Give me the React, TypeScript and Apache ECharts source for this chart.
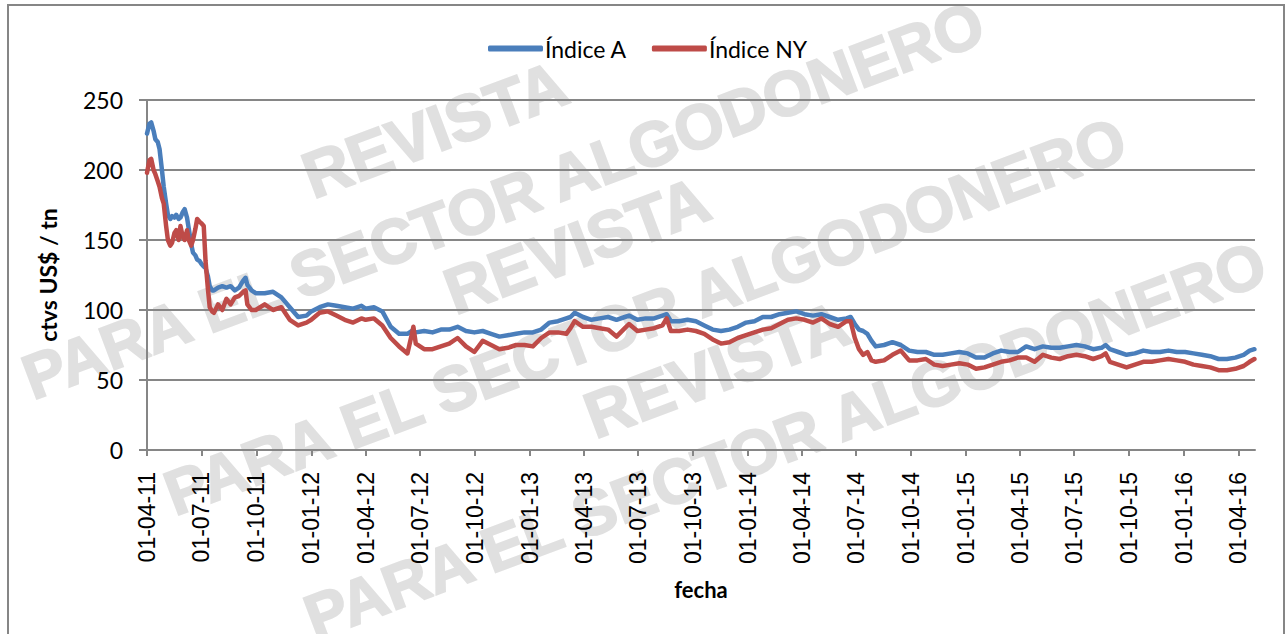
import React, { useEffect, useRef } from "react";
import * as echarts from "echarts";

const dates: string[] = [
  "2011-04-01","2011-04-05","2011-04-08","2011-04-12","2011-04-15","2011-04-19","2011-04-22","2011-04-26","2011-04-29",
  "2011-05-03","2011-05-06","2011-05-10","2011-05-13","2011-05-17","2011-05-20","2011-05-24","2011-05-27","2011-05-31",
  "2011-06-03","2011-06-07","2011-06-10","2011-06-14","2011-06-17","2011-06-21","2011-06-24","2011-06-28",
  "2011-07-01","2011-07-05","2011-07-08","2011-07-12","2011-07-15","2011-07-19","2011-07-22","2011-07-29",
  "2011-08-05","2011-08-12","2011-08-19","2011-08-26","2011-09-02","2011-09-09","2011-09-13","2011-09-16","2011-09-23","2011-09-30",
  "2011-10-15","2011-10-29","2011-11-12","2011-11-26","2011-12-10","2011-12-24",
  "2012-01-01","2012-01-15","2012-01-29","2012-02-12","2012-02-26","2012-03-11","2012-03-25",
  "2012-04-01","2012-04-15","2012-04-29","2012-05-13","2012-05-27","2012-06-10","2012-06-17","2012-06-20","2012-06-24",
  "2012-07-08","2012-07-22","2012-08-05","2012-08-19","2012-09-02","2012-09-16","2012-09-30",
  "2012-10-14","2012-10-28","2012-11-11","2012-11-25","2012-12-09","2012-12-23",
  "2013-01-06","2013-01-20","2013-02-03","2013-02-17","2013-03-03","2013-03-10","2013-03-17","2013-03-31",
  "2013-04-14","2013-04-28","2013-05-12","2013-05-26","2013-06-09","2013-06-16","2013-06-30",
  "2013-07-14","2013-07-28","2013-08-11","2013-08-18","2013-08-25","2013-09-08","2013-09-22",
  "2013-10-06","2013-10-20","2013-11-03","2013-11-17","2013-12-01","2013-12-15","2013-12-29",
  "2014-01-12","2014-01-26","2014-02-09","2014-02-23","2014-03-09","2014-03-23",
  "2014-04-06","2014-04-20","2014-05-04","2014-05-18","2014-06-01","2014-06-15","2014-06-22","2014-06-29",
  "2014-07-06","2014-07-13","2014-07-20","2014-07-27","2014-08-03","2014-08-17","2014-08-31","2014-09-14","2014-09-28",
  "2014-10-12","2014-10-26","2014-11-09","2014-11-23","2014-12-07","2014-12-21",
  "2015-01-04","2015-01-18","2015-02-01","2015-02-15","2015-03-01","2015-03-15","2015-03-29",
  "2015-04-12","2015-04-26","2015-05-10","2015-05-24","2015-06-07","2015-06-21","2015-07-05",
  "2015-07-19","2015-08-02","2015-08-16","2015-08-23","2015-08-30","2015-09-13","2015-09-27",
  "2015-10-11","2015-10-25","2015-11-08","2015-11-22","2015-12-06","2015-12-20",
  "2016-01-03","2016-01-17","2016-01-31","2016-02-14","2016-02-28","2016-03-13","2016-03-27",
  "2016-04-10","2016-04-20","2016-04-28",
];

const indiceA: number[] = [
  226,233,234,228,222,220,215,200,188,
  176,168,165,167,166,168,165,166,170,
  172,166,158,147,141,139,136,135,
  133,131,130,124,117,114,114,116,
  117,116,117,114,116,121,123,118,114,112,
  112,113,109,102,95,96,
  99,102,104,103,102,101,103,
  101,102,99,88,83,83,85,84,84,
  85,84,86,86,88,85,84,
  85,83,81,82,83,84,
  84,86,91,92,94,95,98,95,
  93,94,95,93,95,96,93,
  94,94,96,97,92,92,93,
  92,89,86,85,86,88,91,
  92,95,95,97,98,99,
  97,96,97,95,93,94,95,90,
  86,85,83,78,74,75,77,75,71,
  70,70,68,68,69,70,
  69,66,66,69,71,70,70,
  74,72,74,73,73,74,75,
  74,72,73,75,72,70,68,
  69,71,70,70,71,70,
  70,69,68,67,65,65,66,
  68,71,72,
];

const indiceNY: number[] = [
  198,207,208,200,197,192,188,180,176,
  160,150,146,148,155,157,150,160,152,
  150,157,150,146,150,158,165,163,
  162,160,135,115,102,99,98,104,
  100,108,104,109,110,113,114,104,100,100,
  104,100,102,93,89,91,
  93,98,99,96,93,91,94,
  93,94,89,80,74,69,82,88,76,
  72,72,74,76,80,74,70,
  78,75,72,73,75,75,
  74,80,84,84,83,87,92,88,
  88,87,86,81,87,90,85,
  86,87,89,94,85,85,86,
  85,83,79,76,77,80,82,
  84,86,87,90,93,94,
  93,91,94,90,88,92,92,80,
  72,68,70,64,63,64,68,71,64,
  64,65,61,60,61,62,
  61,58,59,61,63,64,66,
  66,63,68,66,65,67,68,
  67,65,67,69,63,61,59,
  61,63,63,64,65,64,
  63,61,60,59,57,57,58,
  60,63,65,
];

const tickDates: string[] = [
  "2011-04-01","2011-07-01","2011-10-01","2012-01-01","2012-04-01","2012-07-01","2012-10-01",
  "2013-01-01","2013-04-01","2013-07-01","2013-10-01","2014-01-01","2014-04-01","2014-07-01",
  "2014-10-01","2015-01-01","2015-04-01","2015-07-01","2015-10-01","2016-01-01","2016-04-01",
];

const seriesNames: string[] = ["Índice A", "Índice NY"];
const yTicks: number[] = [0, 50, 100, 150, 200, 250];
const axisStart = "2011-04-01";
const axisEnd = "2016-04-29";

const toMs = (s: string) => {
  const [y, m, d] = s.split("-").map(Number);
  return Date.UTC(y, m - 1, d);
};
const pad = (n: number) => (n < 10 ? "0" + n : "" + n);
const fmt = (v: number) => {
  const d = new Date(v);
  return `${pad(d.getUTCDate())}-${pad(d.getUTCMonth() + 1)}-${pad(d.getUTCFullYear() % 100)}`;
};

const FONT = "Lato, 'Liberation Sans', Arial, sans-serif";
const GRAY = "#868686";
const WM = "#e0e0e0";

function watermark(cx: number, cy: number) {
  const font = "bold 63px 'Liberation Sans', Arial, sans-serif";
  const fontR = "bold 65px 'Liberation Sans', Arial, sans-serif";
  return {
    type: "group",
    x: cx,
    y: cy,
    rotation: 0.36,
    silent: true,
    z: -10,
    children: [
      {
        type: "text",
        x: 0,
        y: 0,
        z: -10,
        style: {
          text: "PARA EL SECTOR ALGODONERO",
          fill: WM,
          stroke: WM,
          lineWidth: 2,
          font,
          textAlign: "center",
          verticalAlign: "middle",
        },
      },
      {
        type: "text",
        x: -39,
        y: -90,
        z: -10,
        style: {
          text: "REVISTA",
          fill: WM,
          stroke: WM,
          lineWidth: 2,
          font: fontR,
          textAlign: "center",
          verticalAlign: "middle",
        },
      },
    ],
  };
}

export default function App() {
  const ref = useRef<HTMLDivElement>(null);
  useEffect(() => {
    if (!ref.current) return;
    const chart = echarts.init(ref.current, null, { renderer: "svg" });
    const ticks = tickDates.map(toMs);
    const dataA = dates.map((d, i) => [toMs(d), indiceA[i]]);
    const dataNY = dates.map((d, i) => [toMs(d), indiceNY[i]]);
    chart.setOption({
      animation: false,
      backgroundColor: "#fff",
      graphic: {
        elements: [
          watermark(503, 200),
          watermark(645, 316),
          watermark(785, 440),
          {
            type: "rect",
            z: 100,
            silent: true,
            shape: { x: 8, y: 5, width: 1276, height: 660 },
            style: { fill: "transparent", stroke: GRAY, lineWidth: 2 },
          },
        ],
      },
      legend: {
        top: 32,
        left: 483,
        itemWidth: 55,
        itemHeight: 6,
        itemGap: 25,
        icon: "roundRect",
        data: seriesNames,
        textStyle: { fontFamily: FONT, fontSize: 23, color: "#000", padding: [0, 0, 0, -3] },
      },
      grid: { left: 147, right: 32, top: 100, bottom: 184, containLabel: false },
      xAxis: {
        type: "value",
        min: toMs(axisStart),
        max: toMs(axisEnd),
        name: "fecha",
        nameLocation: "middle",
        nameGap: 128,
        nameTextStyle: { fontFamily: FONT, fontSize: 22, fontWeight: "bold", color: "#000", verticalAlign: "top" },
        axisLine: { show: true, lineStyle: { color: GRAY, width: 2 } },
        axisTick: { show: true, customValues: ticks, length: 6, lineStyle: { color: GRAY, width: 2 } },
        axisLabel: {
          customValues: ticks,
          formatter: (v: number) => fmt(v),
          rotate: 90,
          margin: 22,
          fontFamily: "'Liberation Sans', Arial, sans-serif",
          fontSize: 23,
          color: "#000",
        },
        splitLine: { show: false },
      },
      yAxis: {
        type: "value",
        min: yTicks[0],
        max: yTicks[yTicks.length - 1],
        interval: 50,
        name: "ctvs US$ / tn",
        nameLocation: "middle",
        nameGap: 88,
        nameTextStyle: { fontFamily: FONT, fontSize: 23, fontWeight: "bold", color: "#000" },
        axisLine: { show: true, lineStyle: { color: GRAY, width: 2 } },
        axisTick: { show: true, length: 8, lineStyle: { color: GRAY, width: 2 } },
        axisLabel: { margin: 24, fontFamily: FONT, fontSize: 23, color: "#000" },
        splitLine: { show: true, lineStyle: { color: GRAY, width: 2 } },
      },
      series: [
        {
          name: seriesNames[0],
          type: "line",
          data: dataA,
          showSymbol: false,
          symbol: "none",
          color: "#4a7ebb",
          lineStyle: { width: 4.5, color: "#4a7ebb", cap: "round", join: "round" },
          z: 3,
        },
        {
          name: seriesNames[1],
          type: "line",
          data: dataNY,
          showSymbol: false,
          symbol: "none",
          color: "#be4b48",
          lineStyle: { width: 4.5, color: "#be4b48", cap: "round", join: "round" },
          z: 4,
        },
      ],
    });
    return () => chart.dispose();
  }, []);
  return (
    <div
      ref={ref}
      style={{ position: "fixed", left: 0, top: 0, width: 1287, height: 634, background: "#fff" }}
    />
  );
}
